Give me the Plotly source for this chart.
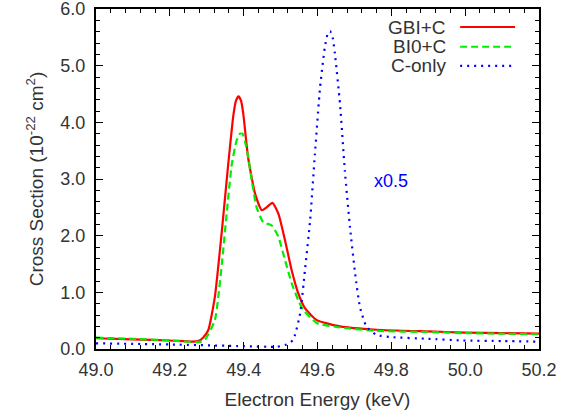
import plotly.graph_objects as go

# GBI+C
gbi_x = [49.00, 49.10, 49.20, 49.262, 49.277, 49.29, 49.304, 49.322, 49.341, 49.358, 49.372, 49.379,
         49.386, 49.393, 49.399, 49.412, 49.431, 49.449, 49.462, 49.478, 49.494, 49.512, 49.530,
         49.548, 49.566, 49.598, 49.661, 49.76, 49.90, 50.00, 50.10, 50.20]
gbi_y = [0.19, 0.17, 0.15, 0.13, 0.14, 0.2, 0.33, 0.92, 2.09, 3.25, 4.12, 4.38,
         4.46, 4.38, 4.15, 3.38, 2.74, 2.45, 2.5, 2.58, 2.39, 1.92, 1.39,
         0.98, 0.72, 0.51, 0.40, 0.34, 0.31, 0.29, 0.28, 0.27]

# BI0+C
bi0_x = [49.00, 49.10, 49.20, 49.27, 49.285, 49.295, 49.322, 49.341, 49.354, 49.368, 49.381, 49.390,
         49.397, 49.404, 49.412, 49.422, 49.435, 49.453, 49.476, 49.494, 49.512, 49.530, 49.548,
         49.561, 49.598, 49.661, 49.76, 49.90, 50.00, 50.10, 50.20]
bi0_y = [0.20, 0.18, 0.15, 0.12, 0.13, 0.16, 0.51, 1.51, 2.39, 3.27, 3.68, 3.80,
         3.80, 3.65, 3.4, 2.97, 2.5, 2.24, 2.18, 1.98, 1.57, 1.16, 0.86,
         0.69, 0.46, 0.38, 0.32, 0.30, 0.28, 0.27, 0.26]

# C-only (x0.5)
c_x = [49.00, 49.20, 49.40, 49.49, 49.516, 49.534, 49.553, 49.566, 49.580, 49.593, 49.607, 49.620,
       49.627, 49.634, 49.641, 49.647, 49.661, 49.674, 49.688, 49.702, 49.715, 49.733, 49.760,
       49.80, 49.90, 49.994, 50.10, 50.20]
c_y = [0.10, 0.08, 0.05, 0.04, 0.08, 0.16, 0.63, 1.39, 2.27, 3.44, 4.62, 5.33,
       5.55, 5.61, 5.5, 5.22, 4.32, 3.15, 2.15, 1.33, 0.74, 0.39, 0.25,
       0.21, 0.18, 0.15, 0.14, 0.13]

series_names = ["GBI+C", "BI0+C", "C-only"]
series_colors = ["#ff0000", "#00ee00", "#0000ff"]
series_dash = ["solid", "7px,4px", "2px,5px"]

x_tick_vals = [49.0, 49.2, 49.4, 49.6, 49.8, 50.0, 50.2]
x_tick_text = ["49.0", "49.2", "49.4", "49.6", "49.8", "50.0", "50.2"]
y_tick_vals = [0, 1, 2, 3, 4, 5, 6]
y_tick_text = ["0.0", "1.0", "2.0", "3.0", "4.0", "5.0", "6.0"]

FONT = "Liberation Sans, Arial, Helvetica, sans-serif"
TXT = "#333333"
FS = 19
TFS = 18

fig = go.Figure()
for (xs, ys), name, col, dash in zip([(gbi_x, gbi_y), (bi0_x, bi0_y), (c_x, c_y)],
                                      series_names, series_colors, series_dash):
    fig.add_trace(go.Scatter(x=xs, y=ys, mode="lines", name=name,
                             line=dict(color=col, width=2.2, dash=dash, shape="spline", smoothing=0.5),
                             showlegend=False))

# custom legend (text left of line sample as in reference)
leg_y = [0.947, 0.889, 0.833]
for name, col, dash, ly in zip(series_names, series_colors, series_dash, leg_y):
    fig.add_annotation(xref="paper", yref="paper", x=0.795, y=ly, text=name, showarrow=False,
                       xanchor="right", yanchor="middle", font=dict(family=FONT, size=FS, color=TXT))
    fig.add_shape(type="line", xref="paper", yref="paper", x0=0.822, x1=0.946, y0=ly, y1=ly,
                  line=dict(color=col, width=2.2, dash=dash))

fig.add_annotation(x=49.8, y=2.96, text="x0.5", showarrow=False,
                   font=dict(family=FONT, size=18, color="#0000ff"))

# y-axis title as rotated annotation (placed as in reference)
fig.add_annotation(xref="paper", yref="paper", x=-0.137, y=0.5, textangle=-90,
                   text="Cross Section (10<sup>-22</sup> cm<sup>2</sup>)", showarrow=False,
                   xanchor="center", yanchor="middle", font=dict(family=FONT, size=FS, color=TXT))

axis_common = dict(showline=True, linecolor="black", linewidth=2, mirror="ticks",
                   ticks="inside", ticklen=7, tickwidth=1.3, tickcolor="black",
                   showgrid=False, zeroline=False, automargin=False, ticklabeloverflow="allow",
                   tickfont=dict(family=FONT, size=TFS, color=TXT))

fig.update_xaxes(range=[49.0, 50.2], tickvals=x_tick_vals, ticktext=x_tick_text, ticklabelstandoff=3,
                 minor=dict(ticks="inside", ticklen=4, tickwidth=1, tickcolor="black", dtick=0.04, tick0=49.0),
                 title=dict(text="Electron Energy (keV)", font=dict(family=FONT, size=FS, color=TXT), standoff=14),
                 **axis_common)
fig.update_yaxes(range=[0, 6.0], tickvals=y_tick_vals, ticktext=y_tick_text, ticklabelstandoff=5,
                 minor=dict(ticks="inside", ticklen=4, tickwidth=1, tickcolor="black", dtick=0.2, tick0=0),
                 **axis_common)

fig.update_layout(width=577, height=418, margin=dict(l=96, r=38, t=9, b=69, autoexpand=False),
                  paper_bgcolor="white", plot_bgcolor="white", showlegend=False)

fig.write_html("out.html", config={"displayModeBar": False},
               post_script="document.body.style.margin='0';")
